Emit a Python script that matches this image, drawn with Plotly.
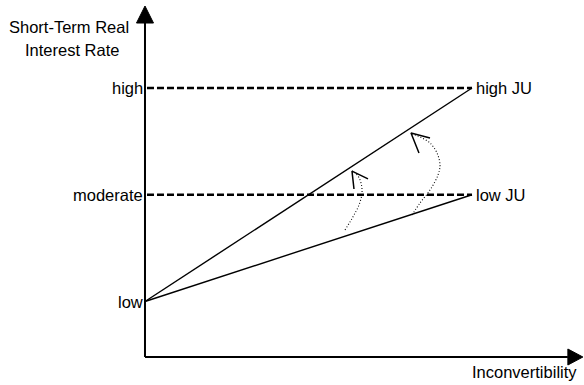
import plotly.graph_objects as go

# ---- data (diagram units: x = inconvertibility 0..10, y = rate level) ----
level_names = ["low", "moderate", "high"]
level_values = [1, 2, 3]
ju_names = ["high JU", "low JU"]
ju_start = [1, 1]
ju_end = [3, 2]
x_start, x_end = 0, 10

# dotted curved shift arrows
shift1_x = [6.116, 6.269, 6.391, 6.544, 6.636, 6.606, 6.514, 6.391, 6.330]
shift1_y = [1.670, 1.745, 1.810, 1.904, 2.016, 2.110, 2.176, 2.213, 2.222]
head1_x = [6.820, 6.330, 6.391]
head1_y = [2.148, 2.222, 2.054]
shift2_x = [8.165, 8.410, 8.716, 8.960, 9.021, 8.930, 8.716, 8.410, 8.196, 8.135]
shift2_y = [1.810, 1.923, 2.044, 2.185, 2.279, 2.391, 2.485, 2.541, 2.569, 2.578]
head2_x = [8.716, 8.135, 8.379]
head2_y = [2.532, 2.578, 2.391]

# axis extents
ax_origin_y = 0.48
x_axis_end = 13.39
y_axis_end = 3.768

# pixel mapping helpers (plot spans whole 584x385 page)
W, H = 584, 385
XR = [-4.434, 13.425]
YR = [0.2178, 3.8244]
px_x = (XR[1] - XR[0]) / W
px_y = (YR[1] - YR[0]) / H

FONT = "Liberation Sans, Arial, sans-serif"
fig = go.Figure()

# dashed level lines
for v in level_values[1:]:
    fig.add_trace(go.Scatter(x=[x_start + 2 * px_x, x_end], y=[v, v], mode="lines",
                             line=dict(color="black", width=2.5, dash="7px,3px"),
                             hoverinfo="skip", showlegend=False))

# JU lines
for s, e in zip(ju_start, ju_end):
    fig.add_trace(go.Scatter(x=[x_start, x_end], y=[s, e], mode="lines",
                             line=dict(color="black", width=1.4),
                             hoverinfo="skip", showlegend=False))

# dotted shift curves + open arrow heads
for sx, sy, hx, hy in [(shift1_x, shift1_y, head1_x, head1_y),
                       (shift2_x, shift2_y, head2_x, head2_y)]:
    fig.add_trace(go.Scatter(x=sx, y=sy, mode="lines",
                             line=dict(color="black", width=1.1, dash="1px,2px", shape="spline"),
                             hoverinfo="skip", showlegend=False))
    fig.add_trace(go.Scatter(x=hx, y=hy, mode="lines",
                             line=dict(color="black", width=1.5),
                             hoverinfo="skip", showlegend=False))

# axes
head_len_x = 15 * px_x
head_half_x = 8 * px_y
head_len_y = 17 * px_y
head_half_y = 8.5 * px_x
fig.add_trace(go.Scatter(x=[x_start, x_axis_end - head_len_x], y=[ax_origin_y, ax_origin_y],
                         mode="lines", line=dict(color="black", width=2),
                         hoverinfo="skip", showlegend=False))
fig.add_trace(go.Scatter(x=[x_start, x_start], y=[ax_origin_y, y_axis_end - head_len_y],
                         mode="lines", line=dict(color="black", width=2),
                         hoverinfo="skip", showlegend=False))
fig.add_trace(go.Scatter(
    x=[x_axis_end - head_len_x, x_axis_end, x_axis_end - head_len_x, x_axis_end - head_len_x],
    y=[ax_origin_y + head_half_x, ax_origin_y, ax_origin_y - head_half_x, ax_origin_y + head_half_x],
    mode="lines", fill="toself", fillcolor="black", line=dict(color="black", width=1),
    hoverinfo="skip", showlegend=False))
fig.add_trace(go.Scatter(
    x=[x_start - head_half_y, x_start, x_start + head_half_y, x_start - head_half_y],
    y=[y_axis_end - head_len_y, y_axis_end, y_axis_end - head_len_y, y_axis_end - head_len_y],
    mode="lines", fill="toself", fillcolor="black", line=dict(color="black", width=1),
    hoverinfo="skip", showlegend=False))

ann = []
font = dict(family=FONT, size=16.5, color="black")
for name, v in zip(level_names, level_values):
    ann.append(dict(x=x_start - 1 * px_x, y=v, text=name, xanchor="right", yanchor="middle",
                    showarrow=False, font=font, borderpad=0))
for name, e in zip(ju_names, ju_end):
    ann.append(dict(x=x_end + 3 * px_x, y=e, text=name, xanchor="left", yanchor="middle",
                    showarrow=False, font=font, borderpad=0))
ann.append(dict(x=-2.324, y=3.571, text="Short-Term Real", xanchor="center", yanchor="middle",
                showarrow=False, font=font, borderpad=0))
ann.append(dict(x=-2.232, y=3.356, text="Interest Rate", xanchor="center", yanchor="middle",
                showarrow=False, font=font, borderpad=0))
ann.append(dict(x=13.24, y=0.34, text="Inconvertibility", xanchor="right", yanchor="middle",
                showarrow=False, font=font, borderpad=0))

fig.update_layout(
    width=W, height=H,
    margin=dict(l=0, r=0, t=0, b=0),
    paper_bgcolor="white", plot_bgcolor="white",
    xaxis=dict(range=XR, visible=False, fixedrange=True),
    yaxis=dict(range=YR, visible=False, fixedrange=True),
    annotations=ann,
    showlegend=False,
)

fig.write_html("out.html", config={"displayModeBar": False},
               post_script="document.body.style.margin='0';document.body.style.overflow='hidden';")
